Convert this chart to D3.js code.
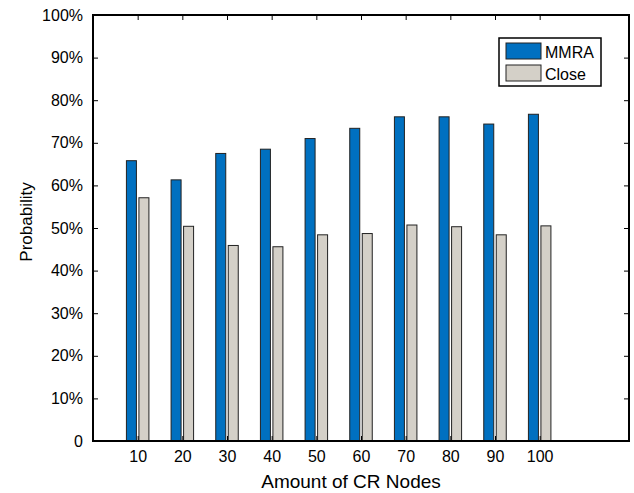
<!DOCTYPE html>
<html>
<head>
<meta charset="utf-8">
<script src="https://cdn.jsdelivr.net/npm/d3@7"></script>
<style>
  body { margin: 0; background: #fff; }
  svg { font-family: "Liberation Sans", Arial, sans-serif; }
  .axis path, .axis line { stroke: #000; }
  .axis text { font-size: 16px; fill: #000; }
</style>
</head>
<body>
<script>
// categories and series
const nodes = [10, 20, 30, 40, 50, 60, 70, 80, 90, 100]
const mmra = [65.8, 61.3, 67.5, 68.5, 71.0, 73.4, 76.1, 76.1, 74.4, 76.7]
const close = [57.1, 50.4, 45.9, 45.6, 48.4, 48.7, 50.7, 50.3, 48.4, 50.5]
const seriesNames = ['MMRA', 'Close']
const seriesColors = ['#0070c0', '#d4d0c8']
const yTicks = [0, 10, 20, 30, 40, 50, 60, 70, 80, 90, 100]

const margin = { top: 15, bottom: 52, left: 93, right: 5 }
const width = 634 - margin.left - margin.right
const height = 493 - margin.top - margin.bottom

const svg = d3.select('body').append('svg')
	.attr('width', 634)
	.attr('height', 493)

const g = svg.append('g').attr('transform', `translate(${margin.left},${margin.top})`)

// scales
const xscale = d3.scaleLinear().domain([0, 120]).range([0, width])
const yscale = d3.scaleLinear().domain([0, 100]).range([height, 0])
const inner = d3.scaleBand().domain(seriesNames).range([-11.25, 11.25]).paddingInner(0.2)

const rows = nodes.map((n, i) => ({ n, values: [mmra[i], close[i]] }))

// bars
const groups = g.selectAll('g.group')
	.data(rows)
	.join('g')
	.attr('class', 'group')
	.attr('transform', d => `translate(${xscale(d.n)},0)`)

groups.selectAll('rect')
	.data(d => d.values.map((v, i) => ({ name: seriesNames[i], v, i })))
	.join('rect')
	.attr('x', d => inner(d.name))
	.attr('width', inner.bandwidth())
	.attr('y', d => yscale(d.v))
	.attr('height', d => height - yscale(d.v))
	.attr('fill', d => seriesColors[d.i])
	.attr('stroke', '#222')
	.attr('stroke-width', 1)

// axes
const yFmt = d => (d === 0 ? '0' : d + '%')
g.append('g').attr('class', 'axis')
	.call(d3.axisLeft(yscale).tickValues(yTicks).tickFormat(yFmt).tickSizeInner(-5).tickSizeOuter(0).tickPadding(10))
	.call(s => s.select('.domain').remove())
g.append('g').attr('class', 'axis')
	.attr('transform', `translate(${width},0)`)
	.call(d3.axisRight(yscale).tickValues(yTicks).tickFormat('').tickSizeInner(-5).tickSizeOuter(0))
	.call(s => s.select('.domain').remove())
g.append('g').attr('class', 'axis')
	.attr('transform', `translate(0,${height})`)
	.call(d3.axisBottom(xscale).tickValues(nodes).tickSizeInner(-5).tickSizeOuter(0).tickPadding(10))
	.call(s => s.select('.domain').remove())
g.append('g').attr('class', 'axis')
	.call(d3.axisTop(xscale).tickValues(nodes).tickFormat('').tickSizeInner(-5).tickSizeOuter(0))
	.call(s => s.select('.domain').remove())

// frame
g.append('rect')
	.attr('width', width)
	.attr('height', height)
	.attr('fill', 'none')
	.attr('stroke', '#000')
	.attr('stroke-width', 2)

// axis titles
svg.append('text')
	.attr('x', 351)
	.attr('y', 488)
	.attr('text-anchor', 'middle')
	.attr('font-size', 19)
	.text('Amount of CR Nodes')
svg.append('text')
	.attr('transform', 'translate(32,222) rotate(-90)')
	.attr('text-anchor', 'middle')
	.attr('font-size', 17)
	.text('Probability')

// legend
const legend = svg.append('g').attr('transform', 'translate(499,38)')
legend.append('rect')
	.attr('width', 102)
	.attr('height', 48)
	.attr('fill', '#fff')
	.attr('stroke', '#000')
	.attr('stroke-width', 1.5)
seriesNames.forEach((name, i) => {
	legend.append('rect')
		.attr('x', 7)
		.attr('y', 5 + i * 22)
		.attr('width', 35)
		.attr('height', 16)
		.attr('fill', seriesColors[i])
		.attr('stroke', '#222')
	legend.append('text')
		.attr('x', 46)
		.attr('y', 19.5 + i * 22)
		.attr('font-size', 16)
		.text(name)
})
</script>
</body>
</html>
